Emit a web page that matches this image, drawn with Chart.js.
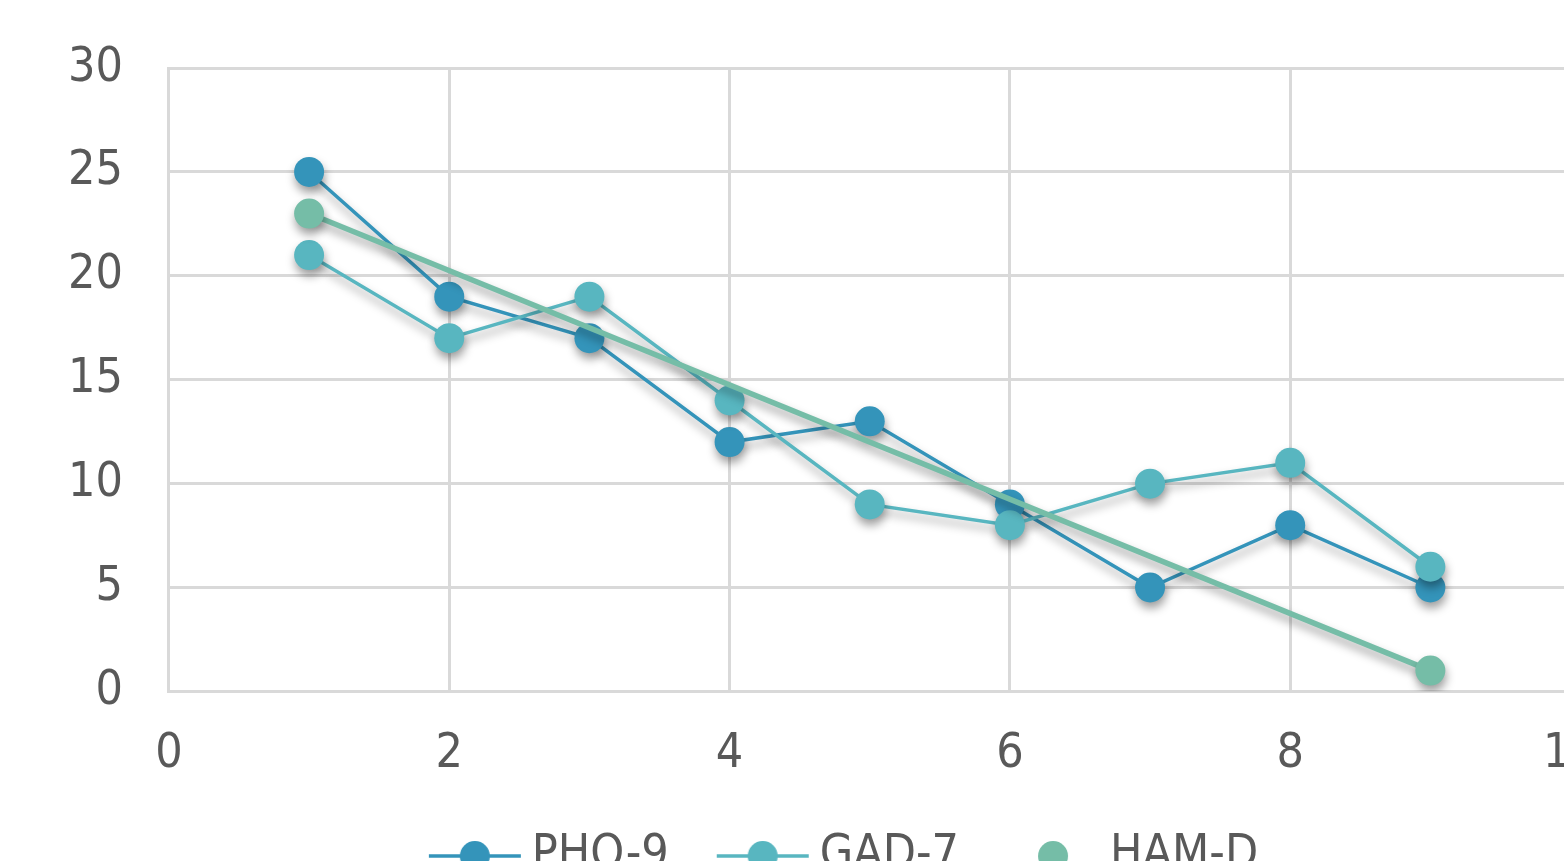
<!DOCTYPE html>
<html>
<head>
<meta charset="utf-8">
<script src="https://cdn.jsdelivr.net/npm/chart.js@4/dist/chart.umd.min.js"></script>
<style>
  html, body { margin: 0; padding: 0; background: #ffffff; overflow: hidden; }
  #wrap { position: absolute; left: 0; top: 0; width: 1632px; height: 890px; }
</style>
</head>
<body>
<div id="wrap"><canvas id="chart"></canvas></div>
<script>
// Scores per visit
const visits = [1, 2, 3, 4, 5, 6, 7, 8, 9];
const pho9 = [25, 19, 17, 12, 13, 9, 5, 8, 5];
const gad7 = [21, 17, 19, 14, 9, 8, 10, 11, 6];
const hamdVisits = [1, 9];
const hamd = [23, 1];

const xTicks = [0, 2, 4, 6, 8, 10];
const yTicks = [0, 5, 10, 15, 20, 25, 30];

const seriesNames = ['PHO-9', 'GAD-7', 'HAM-D'];
const seriesColors = ['#3494BA', '#58B6C0', '#75BDA7'];

const FONT = '"DejaVu Sans Condensed", "DejaVu Sans", sans-serif';
const TEXT = '#595959';
const GRID = '#d9d9d9';

function toPoints(xs, ys) {
  return xs.map((x, i) => ({ x: x, y: ys[i] }));
}

// Legend symbol: short line with a round marker (or the marker alone),
// drawn in the right part of the image so it sits close to its label
function legendSymbol(color, withLine) {
  const c = document.createElement('canvas');
  c.width = 142; c.height = 34;
  const g = c.getContext('2d');
  if (withLine) {
    g.strokeStyle = color; g.lineWidth = 3.5;
    g.beginPath(); g.moveTo(48, 17); g.lineTo(140, 17); g.stroke();
  }
  g.fillStyle = color;
  g.beginPath(); g.arc(94, 17, 15, 0, Math.PI * 2); g.fill();
  return c;
}
const legendSymbols = [
  legendSymbol(seriesColors[0], true),
  legendSymbol(seriesColors[1], true),
  legendSymbol(seriesColors[2], false)
];

// Soft drop shadow under lines and markers
const shadowPlugin = {
  id: 'markShadow',
  beforeDatasetsDraw(chart) {
    const ctx = chart.ctx;
    ctx.save();
    ctx.shadowColor = 'rgba(0,0,0,0.38)';
    ctx.shadowBlur = 10;
    ctx.shadowOffsetX = 1;
    ctx.shadowOffsetY = 6;
  },
  afterDatasetsDraw(chart) {
    chart.ctx.restore();
  }
};

const common = {
  showLine: true,
  pointRadius: 15,
  pointHoverRadius: 15,
  pointBorderWidth: 0,
  tension: 0
};

new Chart(document.getElementById('chart'), {
  type: 'scatter',
  data: {
    datasets: [
      Object.assign({}, common, {
        label: seriesNames[0], data: toPoints(visits, pho9),
        borderColor: seriesColors[0], backgroundColor: seriesColors[0],
        borderWidth: 3.5, order: 2
      }),
      Object.assign({}, common, {
        label: seriesNames[1], data: toPoints(visits, gad7),
        borderColor: seriesColors[1], backgroundColor: seriesColors[1],
        borderWidth: 3.5, order: 1
      }),
      Object.assign({}, common, {
        label: seriesNames[2], data: toPoints(hamdVisits, hamd),
        borderColor: seriesColors[2], backgroundColor: seriesColors[2],
        borderWidth: 5.5, order: 0
      })
    ]
  },
  options: {
    responsive: true,
    maintainAspectRatio: false,
    animation: false,
    layout: { padding: { top: 0, left: 22, right: 0, bottom: 0 } },
    scales: {
      x: {
        type: 'linear', min: 0, max: 10,
        afterBuildTicks(axis) { axis.ticks = xTicks.map(v => ({ value: v })); },
        grid: { color: GRID, lineWidth: 3, drawTicks: false },
        border: { color: GRID, width: 3 },
        ticks: { color: TEXT, font: { family: FONT, size: 48 }, padding: 34, maxRotation: 0 }
      },
      y: {
        type: 'linear', min: 0, max: 30,
        afterBuildTicks(axis) { axis.ticks = yTicks.map(v => ({ value: v })); },
        grid: { color: GRID, lineWidth: 3, drawTicks: false },
        border: { color: GRID, width: 3 },
        ticks: { color: TEXT, font: { family: FONT, size: 48, lineHeight: 0.92 }, padding: 46 }
      }
    },
    plugins: {
      tooltip: { enabled: false },
      legend: {
        position: 'bottom',
        labels: {
          usePointStyle: true,
          pointStyleWidth: 112,
          padding: 15,
          color: TEXT,
          font: { family: FONT, size: 48 },
          sort: (a, b) => a.datasetIndex - b.datasetIndex,
          generateLabels(chart) {
            return chart.data.datasets.map((ds, i) => ({
              text: ds.label,
              datasetIndex: i,
              fillStyle: ds.backgroundColor,
              strokeStyle: ds.borderColor,
              fontColor: TEXT,
              lineWidth: 0,
              pointStyle: legendSymbols[i],
              hidden: false
            }));
          }
        }
      }
    }
  },
  plugins: [shadowPlugin]
});
</script>
</body>
</html>
